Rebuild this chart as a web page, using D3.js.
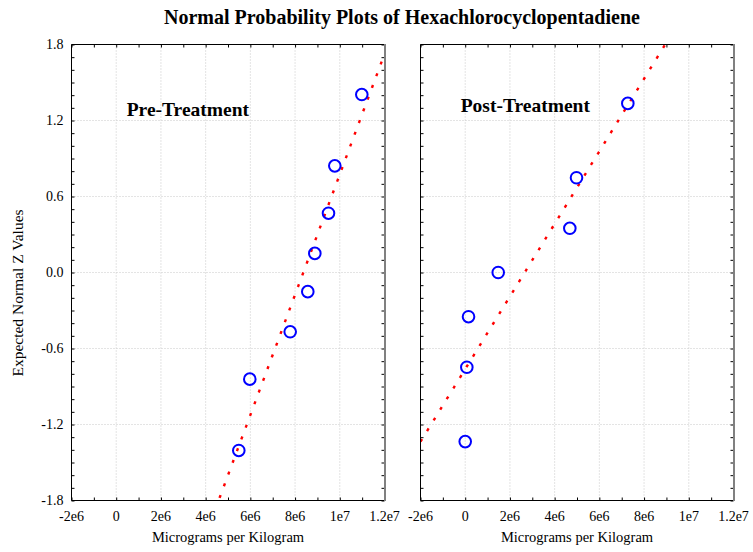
<!DOCTYPE html>
<html>
<head>
<meta charset="utf-8">
<script src="https://cdn.jsdelivr.net/npm/d3@7"></script>
<style>
  html, body { margin: 0; padding: 0; background: #fff; }
  svg { display: block; }
</style>
</head>
<body>
<svg id="chart" width="753" height="552"></svg>
<script>
// ---------- data ----------
const panelTitles = ["Pre-Treatment", "Post-Treatment"];
const preX = [5.483e6, 5.975e6, 7.782e6, 8.569e6, 8.883e6, 9.495e6, 9.777e6, 1.0985e7];
const preZ = [-1.405, -0.842, -0.468, -0.151, 0.151, 0.468, 0.842, 1.405];
const postX = [0, 0.072e6, 0.148e6, 1.476e6, 4.679e6, 4.978e6, 7.273e6];
const postZ = [-1.335, -0.748, -0.349, 0, 0.349, 0.748, 1.335];
const xTicks = [-2e6, 0, 2e6, 4e6, 6e6, 8e6, 1e7, 1.2e7];
const xTickLabels = ["-2e6", "0", "2e6", "4e6", "6e6", "8e6", "1e7", "1.2e7"];
const yTicks = [-1.8, -1.2, -0.6, 0.0, 0.6, 1.2, 1.8];
const yTickLabels = ["-1.8", "-1.2", "-0.6", "0.0", "0.6", "1.2", "1.8"];
const xDomain = [-2e6, 1.2e7];
const yDomain = [-1.8, 1.8];
const chartTitle = "Normal Probability Plots of Hexachlorocyclopentadiene";
const xTitle = "Micrograms per Kilogram";
const yTitle = "Expected Normal Z Values";

// ---------- layout ----------
const svg = d3.select("#chart");
const FONT = "'Liberation Serif', 'Times New Roman', serif";
const yTop = 44.5, yBottom = 500.5;
const panels = [
  { x0: 71.5, x1: 384.5, xs: preX, zs: preZ, title: panelTitles[0], tx: 126.7, ty: 116, showY: true },
  { x0: 420.5, x1: 733.5, xs: postX, zs: postZ, title: panelTitles[1], tx: 460.7, ty: 112.3, showY: false }
];

const y = d3.scaleLinear().domain(yDomain).range([yBottom, yTop]);
const yMinor = d3.range(-1.8, 1.8001, 0.1);
const xMinor = d3.range(-2e6, 1.20001e7, 1e6);

svg.append("text")
  .attr("x", 402).attr("y", 23.5)
  .attr("text-anchor", "middle")
  .attr("font-family", FONT).attr("font-weight", "bold").attr("font-size", 20)
  .text(chartTitle);

svg.append("text")
  .attr("transform", "translate(22.5,293) rotate(-90)")
  .attr("text-anchor", "middle")
  .attr("font-family", FONT).attr("font-size", 15.5)
  .text(yTitle);

function fit(xs, zs) {
  const mx = d3.mean(xs), mz = d3.mean(zs);
  let sxz = 0, sxx = 0;
  xs.forEach((v, i) => { sxz += (v - mx) * (zs[i] - mz); sxx += (v - mx) * (v - mx); });
  const b = sxz / sxx;
  return v => mz + b * (v - mx);
}

panels.forEach((p, pi) => {
  const x = d3.scaleLinear().domain(xDomain).range([p.x0, p.x1]);
  const g = svg.append("g");

  // grid
  g.selectAll(".gx").data(xTicks.slice(1, -1)).enter().append("line")
    .attr("x1", d => x(d)).attr("x2", d => x(d))
    .attr("y1", yTop).attr("y2", yBottom)
    .attr("stroke", "#c8c8c8").attr("stroke-width", 1).attr("stroke-dasharray", "1,2");
  g.selectAll(".gy").data(yTicks.slice(1, -1)).enter().append("line")
    .attr("x1", p.x0).attr("x2", p.x1)
    .attr("y1", d => y(d)).attr("y2", d => y(d))
    .attr("stroke", "#c8c8c8").attr("stroke-width", 1).attr("stroke-dasharray", "1,2");

  // fit line (clipped)
  const clipId = "clip" + pi;
  svg.append("clipPath").attr("id", clipId).append("rect")
    .attr("x", p.x0).attr("y", yTop).attr("width", p.x1 - p.x0).attr("height", yBottom - yTop);
  const f = fit(p.xs, p.zs);
  const lineX = d3.range(xDomain[0], xDomain[1] + 1, (xDomain[1] - xDomain[0]) / 200);
  const line = d3.line().x(d => x(d)).y(d => y(f(d)));
  g.append("path").datum(lineX)
    .attr("d", line)
    .attr("clip-path", `url(#${clipId})`)
    .attr("fill", "none").attr("stroke", "#ff0000").attr("stroke-width", 2.4)
    .attr("stroke-dasharray", "3,9.5");

  // axes with inward ticks
  const axB = d3.axisBottom(x).tickValues(xMinor).tickSize(-3).tickFormat("");
  const axT = d3.axisTop(x).tickValues(xMinor).tickSize(-3).tickFormat("");
  const axL = d3.axisLeft(y).tickValues(yMinor).tickSize(-3).tickFormat("");
  const axR = d3.axisRight(y).tickValues(yMinor).tickSize(-3).tickFormat("");
  [[axB, `translate(0,${yBottom})`], [axT, `translate(0,${yTop})`], [axL, `translate(${p.x0},0)`], [axR, `translate(${p.x1},0)`]]
    .forEach(([ax, tr]) => {
      const a = g.append("g").attr("transform", tr).call(ax);
      a.select(".domain").remove();
      a.selectAll("line").attr("stroke", "#000").attr("stroke-width", 1);
    });

  // frame
  g.append("line").attr("x1", p.x0).attr("x2", p.x1).attr("y1", yTop).attr("y2", yTop).attr("stroke", "#000");
  g.append("line").attr("x1", p.x0).attr("x2", p.x1).attr("y1", yBottom).attr("y2", yBottom).attr("stroke", "#000");
  g.append("line").attr("x1", p.x0).attr("x2", p.x0).attr("y1", yTop).attr("y2", yBottom).attr("stroke", "#000");
  g.append("line").attr("x1", p.x1 + 0.5).attr("x2", p.x1 + 0.5).attr("y1", yTop - 0.5).attr("y2", yBottom + 0.5)
    .attr("stroke", "#808080").attr("stroke-width", 2);

  // x tick labels
  g.selectAll(".xl").data(xTicks).enter().append("text")
    .attr("x", d => x(d)).attr("y", 521)
    .attr("text-anchor", "middle")
    .attr("font-family", FONT).attr("font-size", 14)
    .text((d, i) => xTickLabels[i]);

  // y tick labels
  if (p.showY) {
    g.selectAll(".yl").data(yTicks).enter().append("text")
      .attr("x", 63.5).attr("y", d => y(d)).attr("dy", "0.35em")
      .attr("text-anchor", "end")
      .attr("font-family", FONT).attr("font-size", 14)
      .text((d, i) => yTickLabels[i]);
  }

  // x title
  g.append("text")
    .attr("x", (p.x0 + p.x1) / 2).attr("y", 541.5)
    .attr("text-anchor", "middle")
    .attr("font-family", FONT).attr("font-size", 14.5)
    .text(xTitle);

  // panel title
  g.append("text")
    .attr("x", p.tx).attr("y", p.ty)
    .attr("font-family", FONT).attr("font-weight", "bold").attr("font-size", 19.5)
    .text(p.title);

  // points
  g.selectAll(".pt").data(p.xs.map((v, i) => [v, p.zs[i]])).enter().append("circle")
    .attr("cx", d => x(d[0])).attr("cy", d => y(d[1])).attr("r", 5.8)
    .attr("fill", "none").attr("stroke", "#0000ff").attr("stroke-width", 2);
});
</script>
</body>
</html>
